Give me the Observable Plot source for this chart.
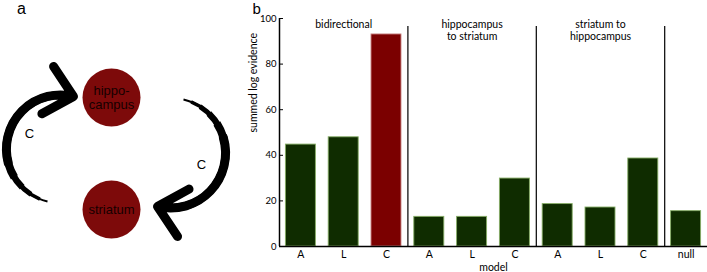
<!DOCTYPE html>
<html>
<head>
<meta charset="utf-8">
<script src="https://cdn.jsdelivr.net/npm/d3@7"></script>
<script src="https://cdn.jsdelivr.net/npm/@observablehq/plot@0.6"></script>
<style>
  body { margin: 0; background: white; }
  #wrap { position: relative; width: 707px; height: 272px; }
  #wrap svg { position: absolute; left: 0; top: 0; background: transparent; }
</style>
</head>
<body>
<div id="wrap"></div>
<script>
// ---- panel b data ----
const models = ["A", "L", "C", "A", "L", "C", "A", "L", "C", "null"];
const evidence = [44.7, 47.9, 93.0, 13.0, 13.0, 29.8, 18.6, 17.1, 38.6, 15.5];
const winner = [false, false, true, false, false, false, false, false, false, false];
const groupNames = ["bidirectional", "hippocampus\nto striatum", "striatum to\nhippocampus"];
const groupCenters = [1, 4, 7];
const dividers = [2.5, 5.5, 8.5];
const yTicks = [0, 20, 40, 60, 80, 100];

// ---- panel a data ----
const nodeNames = ["hippo-\ncampus", "striatum"];
const nodeX = [111, 111];
const nodeY = [97, 209];
const arrowFrom = [[47, 201], [183, 99]];
const arrowTo = [[73, 96], [157, 206]];
const arrowLabels = ["C", "C"];
const arrowLabelX = [29, 201];
const arrowLabelY = [133, 164];

const bars = models.map((m, i) => ({i, model: m, value: evidence[i], win: winner[i]}));
const groups = groupNames.map((g, k) => ({name: g, x: groupCenters[k]}));

const green = "#0f2c00", red = "#7b0000";
const font = "Lato, 'Liberation Sans', sans-serif";

const chartB = Plot.plot({
  width: 707,
  height: 272,
  marginLeft: 279,
  marginRight: 0,
  marginTop: 18,
  marginBottom: 26,
  style: {fontFamily: font, fontSize: "10.5px", background: "transparent", color: "black"},
  x: {type: "linear", domain: [-0.5, 9.5]},
  y: {domain: [0, 100]},
  marks: [
    Plot.rectY(bars, {
      x1: d => d.i - 0.5, x2: d => d.i + 0.5, y: "value",
      insetLeft: 6.4, insetRight: 6.4,
      fill: d => d.win ? red : green,
      stroke: d => d.win ? "#c98585" : "#86ad66",
      strokeWidth: 0.9
    }),
    Plot.ruleX(dividers, {y1: 0, y2: 96.5, stroke: "black", strokeWidth: 1.2}),
    Plot.ruleX([-0.5], {stroke: "black", strokeWidth: 1.5}),
    Plot.ruleY([0], {stroke: "black", strokeWidth: 1.5}),
    Plot.axisY({ticks: yTicks, tickSize: -4, tickPadding: 7, label: null, fontSize: 9.5}),
    Plot.axisX({ticks: d3.range(models.length), tickFormat: i => models[i], tickSize: 0, tickPadding: 4, label: null}),
    Plot.text(groups, {x: "x", y: 100, text: "name", lineAnchor: "top", dy: 1, lineHeight: 1.15}),
    Plot.text(["summed log evidence"], {frameAnchor: "left", dx: -26, rotate: -90, lineAnchor: "middle"}),
    Plot.text(["model"], {frameAnchor: "bottom", dy: 21, lineAnchor: "middle"}),
    Plot.text(["b"], {frameAnchor: "top-left", dx: -27, dy: -5, lineAnchor: "bottom", fontSize: 15, fontFamily: "'Liberation Sans', sans-serif"})
  ]
});

const nodes = nodeNames.map((n, k) => ({name: n, x: nodeX[k], y: nodeY[k]}));
const arrows = arrowFrom.map((f, k) => ({x1: f[0], y1: f[1], x2: arrowTo[k][0], y2: arrowTo[k][1]}));
const arrowText = arrowLabels.map((t, k) => ({t, x: arrowLabelX[k], y: arrowLabelY[k]}));

// tapered body: progressively wider strokes starting further along the arc
const taper = [[2, 0], [3.5, 8], [5, 18], [6.5, 29], [8, 41]];
const arrowOpts = {x1: "x1", y1: "y1", x2: "x2", y2: "y2", bend: 90, stroke: "black", strokeLinecap: "butt"};

const chartA = Plot.plot({
  width: 245,
  height: 272,
  margin: 0,
  style: {fontFamily: "'Liberation Sans', sans-serif", background: "transparent", color: "black"},
  x: {domain: [0, 245], range: [0, 245], axis: null},
  y: {domain: [0, 272], range: [0, 272], axis: null},
  marks: [
    ...taper.map(([w, s]) => Plot.arrow(arrows, {...arrowOpts, strokeWidth: w, headLength: 0, insetStart: s, insetEnd: 12})),
    Plot.arrow(arrows, {...arrowOpts, strokeWidth: 9, headAngle: 85, headLength: 6, insetStart: 55, strokeLinecap: "round"}),
    Plot.dot(nodes, {x: "x", y: "y", r: 29, fill: "#7d0a0a", stroke: null}),
    Plot.text(nodes, {x: "x", y: "y", text: "name", fontSize: 13, fill: "#150000", lineHeight: 1.05}),
    Plot.text(arrowText, {x: "x", y: "y", text: "t", fontSize: 13}),
    Plot.text(["a"], {x: 21, y: 13, lineAnchor: "bottom", fontSize: 16})
  ]
});

document.getElementById("wrap").append(chartB, chartA);
</script>
</body>
</html>
